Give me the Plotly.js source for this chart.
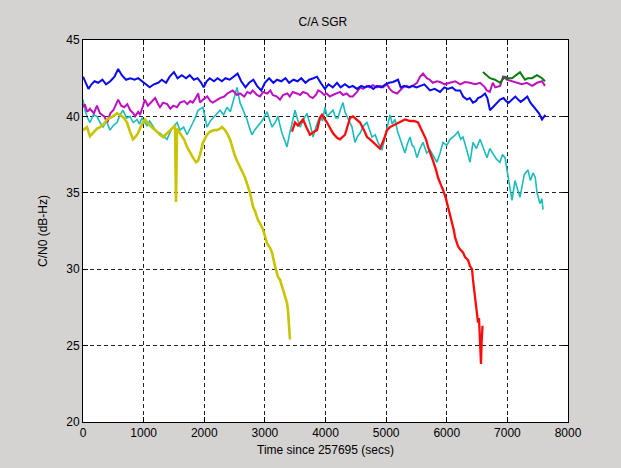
<!DOCTYPE html>
<html>
<head>
<meta charset="utf-8">
<script src="https://cdn.plot.ly/plotly-3.0.1.min.js"></script>
<style>html,body{margin:0;padding:0;background:#d5d2d2;}#chart{width:621px;height:468px;}</style>
</head>
<body>
<div id="chart"></div>
<script>
// Time (s) and C/N0 (dB-Hz) samples
const blueT = [0,40,90,140,190,250,320,380,450,520,580,640,710,780,850,910,975,1040,1100,1170,1240,1300,1370,1430,1500,1560,1630,1700,1760,1830,1890,1950,1990,2040,2090,2160,2220,2290,2350,2420,2490,2550,2610,2680,2740,2810,2870,2940,3000,3070,3140,3200,3270,3340,3400,3470,3540,3600,3670,3730,3800,3860,3920,3990,4050,4120,4190,4250,4320,4390,4450,4520,4590,4650,4720,4790,4850,4920,4990,5050,5114,5196,5240,5300,5370,5430,5500,5570,5630,5724,5800,5889,5960,6020,6090,6150,6220,6270,6334,6380,6433,6480,6516,6570,6631,6670,6713,6760,6829,6880,6938,6980,7021,7080,7131,7180,7218,7270,7329,7380,7439,7480,7522,7571,7600,7626];
const blueV = [42.6,42.2,41.8,42.1,42.3,42.2,42.4,42.1,42.3,42.6,43.1,42.7,42.4,42.5,42.4,42.5,42.3,42.1,41.9,42.1,42.2,42.4,42.2,42.6,42.9,42.5,42.7,42.5,42.7,42.4,42.5,42.2,41.9,42.3,42.5,42.3,42.5,42.3,42.5,42.4,42.6,42.8,42.3,41.9,42.2,42.4,42.0,41.7,42.2,42.5,42.2,42.4,42.3,42.5,42.2,42.4,42.3,42.5,42.2,42.4,42.5,42.6,42.2,41.8,42.1,41.9,42.2,41.9,42.1,41.9,42.0,41.8,42.0,41.9,42.0,41.8,42.0,41.9,42.1,42.2,42.25,42.4,41.9,42.0,41.9,42.0,41.9,42.0,42.1,41.7,41.8,41.6,41.9,41.8,41.9,41.7,41.7,41.3,41.1,41.2,40.9,41.0,41.2,41.3,41.5,41.2,40.4,40.6,40.9,41.1,41.2,41.0,40.9,41.1,41.3,41.1,40.95,41.1,41.3,40.9,40.6,40.4,40.2,39.8,40.0,40.1];

const magT = [0,30,70,115,180,230,280,350,400,450,500,550,580,630,680,730,780,830,860,910,940,990,1020,1070,1120,1190,1240,1270,1320,1390,1440,1490,1550,1600,1670,1720,1770,1810,1860,1900,1930,1980,2050,2100,2140,2210,2260,2330,2380,2430,2470,2540,2590,2660,2710,2760,2800,2870,2920,2970,3040,3090,3130,3200,3250,3300,3370,3410,3460,3530,3580,3630,3700,3740,3790,3840,3880,3930,3980,4020,4070,4120,4190,4240,4290,4350,4400,4450,4520,4570,4620,4680,4730,4780,4850,4900,4950,5010,5060,5110,5180,5230,5280,5340,5390,5440,5510,5560,5610,5670,5720,5770,5840,5890,5970,6050,6140,6220,6300,6380,6470,6550,6630,6660,6710,6760,6800,6880,6930,7000,7080,7160,7240,7320,7410,7490,7570,7620];
const magV = [40.6,40.8,40.3,40.5,40.2,40.7,40.2,40.0,39.6,40.2,40.4,40.8,41.1,40.7,40.6,40.8,40.4,40.2,40.0,40.3,40.1,40.7,41.1,40.7,40.9,41.2,40.8,40.6,40.9,40.8,40.5,40.7,40.6,40.9,41.0,40.8,41.0,40.9,41.2,41.5,40.9,41.1,41.3,41.0,40.9,41.1,41.2,41.3,41.5,41.6,41.7,41.4,41.5,41.3,41.6,41.5,41.7,41.4,41.3,41.6,41.5,41.7,41.4,41.3,41.1,41.4,41.5,41.3,41.6,41.5,41.4,41.6,41.5,41.3,41.2,41.4,41.7,41.6,41.4,41.5,41.3,41.4,41.5,41.6,41.4,41.5,41.3,41.3,41.6,41.9,41.8,42.0,41.9,42.05,41.9,42.0,41.9,42.1,41.8,41.6,41.5,41.7,41.9,42.0,41.9,42.0,42.2,42.6,42.8,42.5,42.4,42.2,42.3,42.25,42.1,42.2,42.3,42.1,42.25,42.2,42.1,42.2,41.9,41.7,41.6,42.2,41.9,42.0,42.6,42.4,42.3,42.2,42.1,42.2,42.0,42.2,42.3,42.0];

const cyanT = [0,33,75,115,170,231,280,330,390,445,500,561,610,660,720,775,830,891,930,973,1020,1056,1100,1155,1210,1270,1330,1386,1430,1468,1510,1551,1600,1660,1716,1770,1814,1860,1897,1979,2045,2100,2144,2200,2260,2320,2375,2430,2474,2540,2590,2650,2705,2750,2788,2830,2870,2920,2969,3035,3080,3118,3170,3217,3250,3283,3330,3365,3410,3447,3497,3540,3579,3640,3695,3744,3794,3850,3909,3950,3992,4025,4080,4124,4170,4206,4250,4289,4320,4355,4400,4437,4487,4530,4569,4630,4685,4730,4767,4820,4866,4932,4980,5014,5064,5100,5147,5190,5229,5270,5311,5350,5394,5430,5460,5509,5560,5608,5670,5724,5780,5839,5890,5938,6000,6054,6120,6186,6230,6268,6330,6384,6433,6490,6549,6610,6664,6710,6763,6820,6878,6920,6961,7010,7040,7076,7126,7170,7208,7250,7280,7340,7380,7423,7460,7489,7538,7570,7588,7604];
const cyanV = [41.1,40.4,39.9,39.6,40.1,40.0,39.6,39.3,39.7,39.1,39.4,39.6,40.1,40.4,39.9,40.0,39.6,39.8,39.5,39.9,39.6,39.4,39.7,39.3,39.0,38.9,38.7,38.5,38.9,39.2,39.4,39.6,39.1,39.3,38.8,39.2,39.6,40.0,40.4,40.6,39.3,39.7,39.9,40.2,40.4,40.1,40.6,40.3,40.9,41.9,40.9,40.3,39.8,39.2,38.8,39.1,39.3,39.5,39.8,40.3,39.8,39.3,39.6,40.0,39.4,38.9,38.4,38.0,38.9,39.6,40.4,39.8,39.3,39.8,40.2,39.5,38.65,39.4,40.0,39.7,40.6,40.0,40.2,40.4,39.9,39.9,40.5,40.9,40.3,40.0,39.6,39.3,38.3,38.7,38.9,39.4,39.6,39.0,38.65,38.8,38.3,37.8,38.6,39.3,40.1,39.5,39.8,39.0,38.5,38.0,37.6,38.2,38.65,38.1,38.0,37.3,37.9,38.3,37.6,37.8,37.4,37.0,37.6,38.3,38.1,38.5,38.7,39.0,38.5,38.65,37.8,37.0,38.3,37.9,38.5,37.8,37.3,37.9,37.6,37.2,37.0,37.5,37.3,36.0,35.2,34.5,35.8,35.2,34.7,35.6,36.2,36.5,35.8,36.3,36.0,35.0,34.3,34.6,33.9];

const yelT = [0,66,115,165,231,280,346,396,445,495,561,610,676,726,775,825,874,907,973,1023,1105,1171,1221,1270,1320,1386,1435,1485,1518,1534,1551,1600,1666,1716,1765,1814,1864,1897,1930,1979,2045,2095,2161,2210,2260,2293,2342,2375,2425,2458,2507,2540,2590,2623,2672,2705,2755,2804,2837,2887,2920,2969,3002,3035,3085,3118,3167,3217,3250,3283,3332,3365,3381,3398,3414];
const yelV = [39.1,39.3,38.7,38.9,39.2,39.3,39.5,39.8,39.9,40.0,40.2,40.1,39.9,39.6,39.0,38.5,38.7,38.9,39.5,39.8,39.4,39.2,39.0,38.8,38.65,38.9,39.1,39.3,39.4,34.4,39.2,38.9,38.5,38.0,37.6,37.3,37.0,37.1,37.5,38.3,38.8,39.0,39.1,39.1,39.2,39.3,39.1,38.9,38.5,38.0,37.4,37.1,36.7,36.5,36.0,35.6,35.0,34.1,33.8,33.2,33.0,32.6,32.2,31.7,31.4,31.1,30.2,29.5,29.3,28.9,28.2,27.8,27.3,26.5,25.4];

const redT = [3447,3497,3546,3629,3695,3744,3810,3860,3909,3942,4025,4124,4190,4239,4322,4371,4404,4454,4520,4569,4635,4685,4734,4784,4850,4899,4965,5014,5064,5113,5179,5229,5311,5394,5460,5526,5575,5608,5658,5691,5740,5773,5823,5856,5905,5938,5988,6021,6054,6087,6120,6136,6186,6219,6268,6301,6351,6384,6417,6433,6466,6499,6516,6532,6549,6557,6565,6575,6590];
const redV = [39.0,39.6,39.4,39.8,39.2,38.8,39.0,39.1,39.9,40.1,39.6,38.9,38.6,38.5,38.8,39.4,39.9,40.0,39.8,39.6,39.1,38.65,38.5,38.3,38.1,37.9,38.5,39.1,39.3,39.4,39.5,39.6,39.8,39.7,39.7,39.6,39.2,38.9,38.5,38.0,37.5,37.1,36.5,36.0,35.5,35.2,34.6,34.1,33.5,33.0,32.5,32.1,31.5,31.3,31.1,30.8,30.6,30.2,30.0,29.3,28.2,27.3,26.5,26.8,25.6,24.9,23.8,25.2,26.3];

const greenT = [6598,6648,6714,6796,6878,6961,7010,7076,7142,7208,7291,7340,7406,7489,7571,7621];
const greenV = [42.9,42.7,42.5,42.4,42.2,42.6,42.5,42.5,42.7,42.9,42.4,42.5,42.5,42.7,42.5,42.3];

const xTicks = [0,1000,2000,3000,4000,5000,6000,7000,8000];
const yTicks = [20,25,30,35,40,45];

function tr(x, y, color, w) {
  return {x: x, y: y, type: 'scatter', mode: 'lines', line: {color: color, width: w}, hoverinfo: 'skip'};
}

const data = [
  tr(cyanT, cyanV, '#1cbcbc', 1.6),
  tr(magT, magV, '#bf10bf', 2),
  tr(blueT, blueV, '#0a0aee', 2),
  tr(yelT, yelV, '#c8c400', 2.6),
  tr(redT, redV, '#ff0a0a', 2.3),
  tr(greenT, greenV, '#0a7a0a', 2)
];

const axisFont = {family: 'Liberation Sans, Arial, sans-serif', size: 12, color: '#000'};

const layout = {
  width: 621, height: 468,
  paper_bgcolor: '#d5d2d2',
  plot_bgcolor: '#ffffff',
  margin: {l: 83, r: 53, t: 40, b: 46},
  showlegend: false,
  title: {text: 'C/A SGR', font: axisFont, x: 0.52, xanchor: 'center', y: 0.953, yanchor: 'middle'},
  xaxis: {
    range: [0, 8000], tickvals: xTicks, ticktext: xTicks.map(String),
    showline: true, linecolor: '#000', linewidth: 1, mirror: 'ticks',
    ticks: 'inside', ticklen: 5, tickcolor: '#000',
    showgrid: true, gridcolor: '#222', griddash: '4px,3px', gridwidth: 1,
    zeroline: false, tickfont: axisFont,
    title: {text: 'Time since 257695 (secs)', font: axisFont, standoff: 6}
  },
  yaxis: {
    range: [20, 45], tickvals: yTicks, ticktext: yTicks.map(String),
    showline: true, linecolor: '#000', linewidth: 1, mirror: 'ticks',
    ticks: 'inside', ticklen: 5, tickcolor: '#000',
    showgrid: true, gridcolor: '#222', griddash: '4px,3px', gridwidth: 1,
    zeroline: false, tickfont: axisFont,
    title: {text: 'C/N0 (dB-Hz)', font: axisFont, standoff: 16}
  }
};

Plotly.newPlot('chart', data, layout, {displayModeBar: false, staticPlot: true});
</script>
</body>
</html>
